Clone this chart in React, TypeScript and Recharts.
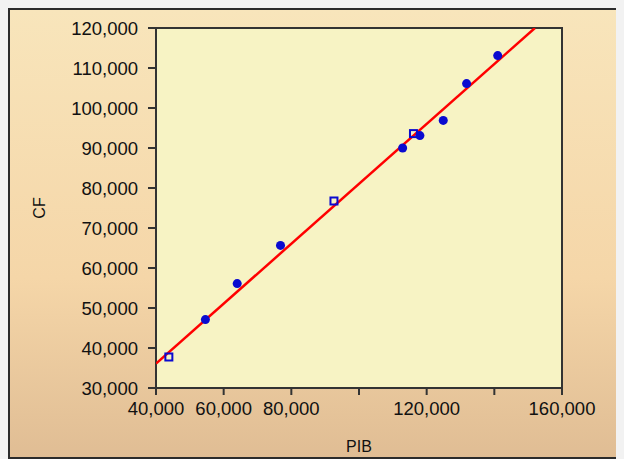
import {
  ScatterChart,
  Scatter,
  XAxis,
  YAxis,
  ZAxis,
  ReferenceArea,
} from "recharts";

const pibValues = [43800, 54600, 64000, 76800, 92600, 112900, 116100, 118000, 124900, 131800, 141000];
const cfValues = [37750, 47100, 56100, 65650, 76750, 90000, 93600, 93100, 96900, 106100, 113100];
const markerKinds = ["box", "dot", "dot", "dot", "box", "dot", "box", "dot", "dot", "dot", "dot"];

// fitted line end points
const fitX = [40000, 152000];
const fitY = [36100, 120000];

const xTicks = [40000, 60000, 80000, 100000, 120000, 140000, 160000];
const xTickLabels = ["40,000", "60,000", "80,000", "", "120,000", "", "160,000"];
const yTicks = [30000, 40000, 50000, 60000, 70000, 80000, 90000, 100000, 110000, 120000];

const points = pibValues.map((x, i) => ({ x, y: cfValues[i], kind: markerKinds[i] }));
const dots = points.filter((p) => p.kind === "dot");
const boxes = points.filter((p) => p.kind === "box");
const fitLine = fitX.map((x, i) => ({ x, y: fitY[i] }));

const FONT = "'Liberation Sans', Arial, sans-serif";
const tickStyle = { fontSize: 18.5, fill: "#111", fontFamily: FONT };

const OpenBox = (props: any) => (
  <rect
    x={props.cx - 3.5}
    y={props.cy - 3.5}
    width={7}
    height={7}
    fill="none"
    stroke="#0a0ad0"
    strokeWidth={2}
  />
);

export default function App() {
  return (
    <>
      <style>{"body{background:#f2f2f2;overflow:hidden}"}</style>
      <div
        style={{
          width: 616,
          height: 451,
          boxSizing: "border-box",
          borderLeft: "2px solid #2b2b2b",
          borderTop: "2px solid #2b2b2b",
          borderBottom: "2px solid #2b2b2b",
          background: "linear-gradient(#f8e5bb, #f5d6a8 60%, #e0bd94)",
        }}
      >
        <ScatterChart width={614} height={447} margin={{ top: 18, right: 62, bottom: 0, left: 0 }}>
          <ReferenceArea
            x1={40000}
            x2={160000}
            y1={30000}
            y2={120000}
            fill="#f7f3c4"
            fillOpacity={1}
            stroke="#333"
            strokeWidth={2}
          />
          <XAxis
            type="number"
            dataKey="x"
            domain={[40000, 160000]}
            ticks={xTicks}
            tickFormatter={(v) => xTickLabels[xTicks.indexOf(v)] ?? ""}
            allowDataOverflow
            height={69}
            tickSize={7}
            tickMargin={7}
            tick={tickStyle}
            axisLine={{ stroke: "#333", strokeWidth: 2 }}
            tickLine={{ stroke: "#333", strokeWidth: 2 }}
            label={{ value: "PIB", position: "insideBottom", offset: 5, fontSize: 16, fill: "#111", fontFamily: FONT }}
          />
          <YAxis
            type="number"
            dataKey="y"
            domain={[30000, 120000]}
            ticks={yTicks}
            tickFormatter={(v) => v.toLocaleString("en-US")}
            allowDataOverflow
            width={146}
            tickSize={8}
            tickMargin={10}
            tick={tickStyle}
            axisLine={{ stroke: "#333", strokeWidth: 2 }}
            tickLine={{ stroke: "#333", strokeWidth: 2 }}
            label={{
              content: () => (
                <text
                  x={29}
                  y={198}
                  transform="rotate(-90 29 198)"
                  textAnchor="middle"
                  dominantBaseline="central"
                  fontSize={16}
                  fill="#111"
                  fontFamily={FONT}
                >
                  CF
                </text>
              ),
            }}
          />
          <ZAxis range={[55, 55]} />
          <Scatter
            data={fitLine}
            line={{ stroke: "#ff0000", strokeWidth: 2.5 }}
            shape={() => <g />}
            isAnimationActive={false}
          />
          <Scatter data={dots} fill="#0a0ad0" shape="circle" isAnimationActive={false} />
          <Scatter data={boxes} shape={OpenBox} isAnimationActive={false} />
        </ScatterChart>
      </div>
    </>
  );
}
